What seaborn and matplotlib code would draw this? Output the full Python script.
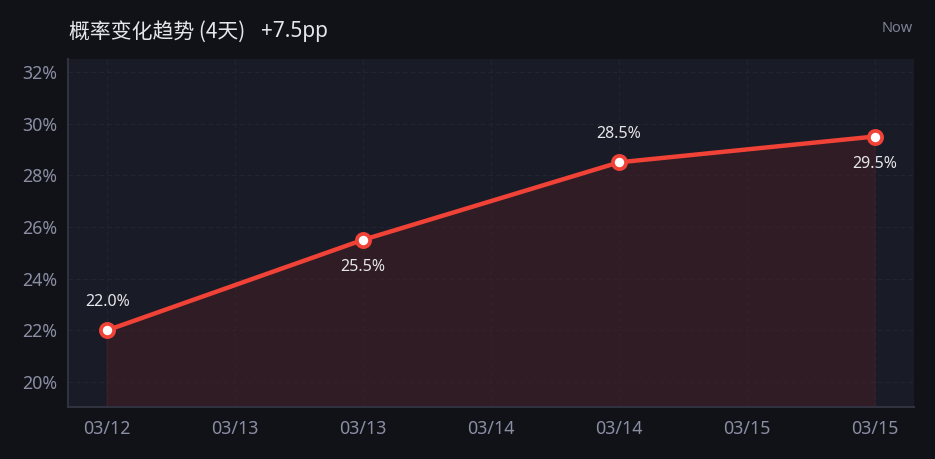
import pandas as pd
import seaborn as sns
import numpy as np
import matplotlib.pyplot as plt
import matplotlib.dates as mdates

# data
dates = ['2025-03-12', '2025-03-13', '2025-03-14', '2025-03-15']
probs = [22.0, 25.5, 28.5, 29.5]
label_side = ['above', 'below', 'above', 'below']
xtick_labels = ['03/12', '03/13', '03/13', '03/14', '03/14', '03/15', '03/15']
yticks = [20, 22, 24, 26, 28, 30, 32]
title = '概率变化趋势 (4天)'
change = '+7.5pp'

df = pd.DataFrame({'date': pd.to_datetime(dates), 'prob': probs})

FIG_BG = '#111217'
AX_BG = '#191b26'
RED = '#f04236'

sns.set_theme(style='dark')
plt.rcParams['font.family'] = ['Noto Sans', 'Noto Sans CJK SC', 'DejaVu Sans']

fig = plt.figure(figsize=(9.35, 4.59), dpi=100, facecolor=FIG_BG)
ax = fig.add_axes([68/935, 1-407/459, (914-68)/935, (407-59)/459])
ax.set_facecolor(AX_BG)

# area under the line, edges give the faint vertical borders
ax.fill_between(df['date'], df['prob'], 0, facecolor='#4a1f22', alpha=0.45,
                edgecolor='#5a2430', lw=0.8, zorder=1)

sns.lineplot(data=df, x='date', y='prob', ax=ax, color=RED, lw=3.2,
             marker='o', markersize=9.5, markerfacecolor='white',
             markeredgecolor=RED, markeredgewidth=2.7, zorder=3)

for d, p, side in zip(df['date'], df['prob'], label_side):
    off = 20.5 if side == 'above' else -19.5
    ax.annotate(f'{p:.1f}%', (d, p), xytext=(0, off), textcoords='offset points',
                ha='center', va='center', color='#e6e6ea', fontsize=11.5, zorder=4)

ax.set_ylim(19.03, 32.5)
ax.set_yticks(yticks)
ax.set_yticklabels([f'{v}%' for v in yticks])
xt = pd.date_range(df['date'].iloc[0], df['date'].iloc[-1], freq='12h')
ax.set_xticks(xt)
ax.set_xticklabels(xtick_labels)
ax.margins(x=0.051)

ax.set_xlabel('')
ax.set_ylabel('')
ax.tick_params(axis='both', length=0, colors='#8a8ea3', labelsize=12.8)
ax.tick_params(axis='x', pad=9)
ax.tick_params(axis='y', pad=8)
ax.grid(True, color='#222432', lw=0.8, ls=(0, (4, 3)))
for s in ['top', 'right']:
    ax.spines[s].set_visible(False)
for s in ['left', 'bottom']:
    ax.spines[s].set_color('#30323f')
    ax.spines[s].set_linewidth(1.5)

fig.text(69/935, 1-32/459, title, color='#e6e6ea', fontsize=15, va='center',
         family=['Noto Sans CJK SC', 'DejaVu Sans'])
fig.text(261/935, 1-32/459, change, color='#e6e6ea', fontsize=15, va='center',
         family=['Noto Sans', 'DejaVu Sans'])
fig.text(913/935, 1-28.5/459, 'Now', color='#7d8194', fontsize=10.5, ha='right', va='center')

fig.savefig('out.png', dpi=100, facecolor=FIG_BG)
